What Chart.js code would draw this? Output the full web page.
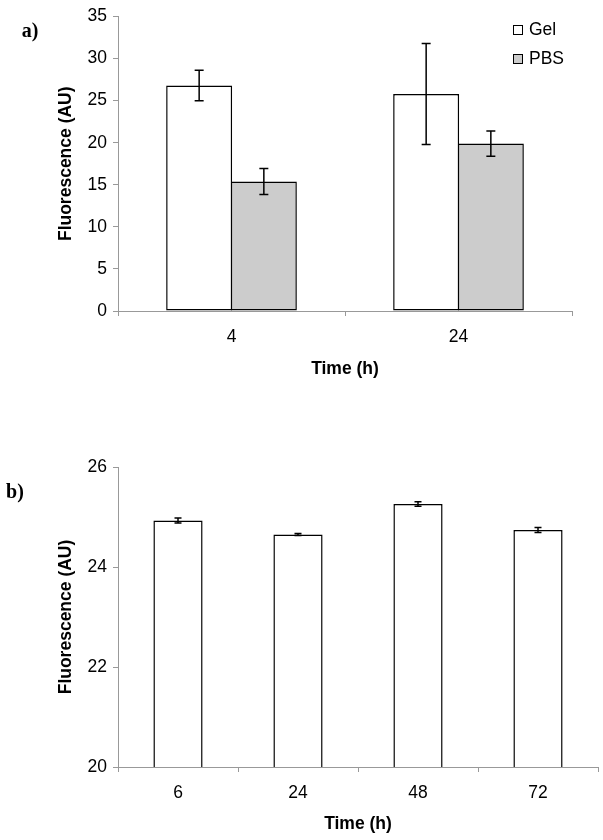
<!DOCTYPE html>
<html>
<head>
<meta charset="utf-8">
<script src="https://cdn.jsdelivr.net/npm/chart.js@4/dist/chart.umd.min.js"></script>
<style>
  body { margin: 0; background: #fff; }
  .panel { position: absolute; left: 0; width: 603px; }
  #boxA { top: 0; height: 400px; }
  #boxB { top: 420px; height: 420px; }
</style>
</head>
<body>
<div class="panel" id="boxA"><canvas id="chartA"></canvas></div>
<div class="panel" id="boxB"><canvas id="chartB"></canvas></div>
<script>
// panel a) data
var timesA = ['4', '24'];
var gelA = [26.8, 25.8];
var gelErrA = [1.8, 6.0];
var pbsA = [15.4, 19.9];
var pbsErrA = [1.55, 1.5];
var ticksA = [0, 5, 10, 15, 20, 25, 30, 35];

// panel b) data
var timesB = ['6', '24', '48', '72'];
var gelB = [24.93, 24.65, 25.26, 24.74];
var gelErrB = [0.05, 0.02, 0.045, 0.05];
var ticksB = [20, 22, 24, 26];

Chart.defaults.font.family = "'Liberation Sans', Arial, sans-serif";
Chart.defaults.font.size = 17.5;
Chart.defaults.color = '#000';

// error bars drawn from dataset.errors
var errorBars = {
  id: 'errorBars',
  afterDatasetsDraw: function(chart, args, opts) {
    var ctx = chart.ctx;
    var y = chart.scales.y;
    ctx.save();
    ctx.strokeStyle = '#000';
    ctx.lineWidth = 1.5;
    chart.data.datasets.forEach(function(ds, i) {
      if (!ds.errors) return;
      chart.getDatasetMeta(i).data.forEach(function(bar, j) {
        var v = ds.data[j], e = ds.errors[j];
        var top = y.getPixelForValue(v + e);
        var bot = y.getPixelForValue(v - e);
        var w = opts.cap;
        ctx.beginPath();
        ctx.moveTo(bar.x, top); ctx.lineTo(bar.x, bot);
        ctx.moveTo(bar.x - w, top); ctx.lineTo(bar.x + w, top);
        ctx.moveTo(bar.x - w, bot); ctx.lineTo(bar.x + w, bot);
        ctx.stroke();
      });
    });
    ctx.restore();
  }
};

// panel letter and a small boxed legend
var extras = {
  id: 'extras',
  afterDraw: function(chart, args, opts) {
    var ctx = chart.ctx;
    ctx.save();
    ctx.fillStyle = '#000';
    ctx.font = "bold 20px 'Liberation Serif', 'Times New Roman', serif";
    ctx.textAlign = 'center';
    ctx.textBaseline = 'middle';
    ctx.fillText(opts.letter, opts.letterX, opts.letterY);
    if (opts.legend) {
      ctx.font = "17.5px 'Liberation Sans', Arial, sans-serif";
      ctx.textAlign = 'left';
      chart.data.datasets.forEach(function(ds, i) {
        var bx = opts.legendX, by = opts.legendY + i * 29;
        ctx.fillStyle = ds.backgroundColor;
        ctx.fillRect(bx, by, 10, 10);
        ctx.strokeStyle = '#000';
        ctx.lineWidth = 1;
        ctx.strokeRect(bx + 0.5, by + 0.5, 9, 9);
        ctx.fillStyle = '#000';
        ctx.fillText(ds.label, bx + 16, by + 5);
      });
    }
    ctx.restore();
  }
};

function axes(min, max, step, tickVals, yWidth, xHeight) {
  return {
    x: {
      grid: { offset: true, drawOnChartArea: false, tickLength: 5, color: '#999' },
      border: { color: '#999' },
      ticks: { padding: 11 },
      title: { display: true, text: 'Time (h)', font: { weight: 'bold' }, padding: 0 },
      afterFit: function(s) { s.height = xHeight; }
    },
    y: {
      min: min, max: max,
      grid: { drawOnChartArea: false, tickLength: 5, color: '#999' },
      border: { color: '#999' },
      ticks: { stepSize: step, padding: 6 },
      afterBuildTicks: function(s) { s.ticks = tickVals.map(function(v) { return { value: v }; }); },
      title: { display: true, text: 'Fluorescence (AU)', font: { weight: 'bold' }, padding: 0 },
      afterFit: function(s) { s.width = yWidth; }
    }
  };
}

new Chart(document.getElementById('chartA'), {
  type: 'bar',
  data: {
    labels: timesA,
    datasets: [
      { label: 'Gel', data: gelA, errors: gelErrA, backgroundColor: '#ffffff',
        borderColor: '#000', borderWidth: 1.5, borderSkipped: false },
      { label: 'PBS', data: pbsA, errors: pbsErrA, backgroundColor: '#cccccc',
        borderColor: '#000', borderWidth: 1.5, borderSkipped: false }
    ]
  },
  options: {
    responsive: true,
    maintainAspectRatio: false,
    animation: false,
    categoryPercentage: 0.57,
    barPercentage: 1.02,
    layout: { padding: { left: 56, top: 13, right: 31, bottom: 20 } },
    scales: axes(0, 35, 5, ticksA, 62, 69),
    plugins: {
      legend: { display: false },
      tooltip: { enabled: false },
      errorBars: { cap: 4.5 },
      extras: { letter: 'a)', letterX: 30, letterY: 32, legend: true, legendX: 513, legendY: 25 }
    }
  },
  plugins: [errorBars, extras]
});

new Chart(document.getElementById('chartB'), {
  type: 'bar',
  data: {
    labels: timesB,
    datasets: [
      { label: 'Gel', data: gelB, errors: gelErrB, backgroundColor: '#ffffff',
        borderColor: '#000', borderWidth: 1.5, borderSkipped: false }
    ]
  },
  options: {
    responsive: true,
    maintainAspectRatio: false,
    animation: false,
    categoryPercentage: 0.41,
    barPercentage: 1,
    layout: { padding: { left: 56, top: 47, right: 5, bottom: 5 } },
    scales: axes(20, 26, 2, ticksB, 62, 68),
    plugins: {
      legend: { display: false },
      tooltip: { enabled: false },
      errorBars: { cap: 3.5 },
      extras: { letter: 'b)', letterX: 15, letterY: 73, legend: false }
    }
  },
  plugins: [errorBars, extras]
});
</script>
</body>
</html>
